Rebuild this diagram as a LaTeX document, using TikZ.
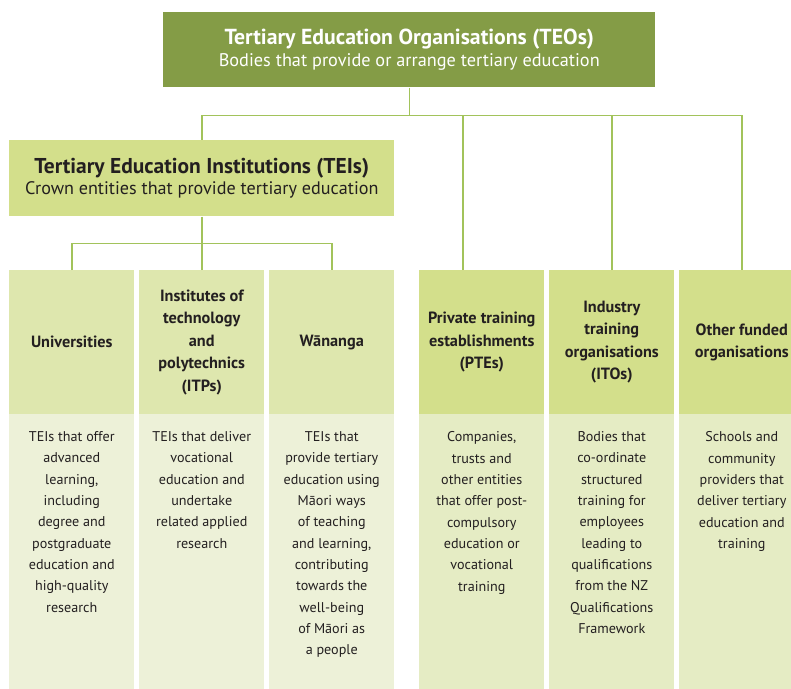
\documentclass[tikz,border=0pt]{standalone}
\usepackage{fontspec}
\setmainfont{PT Sans}
\definecolor{teodark}{HTML}{849C46}
\definecolor{teimid}{HTML}{D3DF8B}
\definecolor{lefthead}{HTML}{DEE7AE}
\definecolor{leftbody}{HTML}{EDF1D8}
\definecolor{rightbody}{HTML}{E5ECC4}
\definecolor{lineg}{HTML}{A2C35B}
\definecolor{txt}{HTML}{231F20}
\newcommand\hdfont{\fontsize{12.2}{16.9}\selectfont\bfseries}
\newcommand\bdfont{\fontsize{10.6}{16}\selectfont}
\begin{document}
\begin{tikzpicture}[x=0.75pt,y=-0.75pt,
  conn/.style={draw=lineg, line width=1.1pt},
  teobox/.style={fill=teodark, text=white, inner sep=0, minimum width=369pt, minimum height=56.25pt, anchor=north west, align=center},
  teibox/.style={fill=teimid, text=txt, inner sep=0, minimum width=288.75pt, minimum height=57pt, anchor=north west, align=center},
  headbox/.style={inner sep=0, minimum width=93.75pt, minimum height=108pt, anchor=north west, align=center, text=txt, font=\hdfont},
  bodybox/.style={inner sep=0, minimum width=93.75pt, minimum height=215pt, anchor=north west},
  bodytext/.style={inner sep=0, anchor=north, align=center, text=txt, font=\bdfont}]
\useasboundingbox (0,0) rectangle (791,688);
\clip (0,0) rectangle (791,688);
% top boxes
\node[teobox] (teo) at (163,12) {{\fontsize{16.3}{18}\selectfont\bfseries Tertiary Education Organisations (TEOs)}\\[2.5pt]{\fontsize{13.7}{18}\selectfont Bodies that provide or arrange tertiary education}};
\node[teibox] (tei) at (9,140) {{\fontsize{16.1}{19.5}\selectfont\bfseries Tertiary Education Institutions (TEIs)}\\[2pt]{\fontsize{13.6}{19.5}\selectfont Crown entities that provide tertiary education}};
% headers
\node[headbox, fill=lefthead] (uni) at (9,270) {Universities};
\node[headbox, fill=lefthead] (itp) at (139,270) {Institutes of\\technology\\and\\polytechnics\\(ITPs)};
\node[headbox, fill=lefthead] (wan) at (269,270) {Wānanga};
\node[headbox, fill=teimid] (pte) at (419,270) {Private training\\establishments\\(PTEs)};
\node[headbox, fill=teimid] (ito) at (549,270) {Industry\\training\\organisations\\(ITOs)};
\node[headbox, fill=teimid] (oth) at (679,270) {Other funded\\organisations};
% bodies
\node[bodybox, fill=leftbody] (unib) at (9,414) {};
\node[bodybox, fill=leftbody] (itpb) at (139,414) {};
\node[bodybox, fill=leftbody] (wanb) at (269,414) {};
\node[bodybox, fill=rightbody] (pteb) at (419,414) {};
\node[bodybox, fill=rightbody] (itob) at (549,414) {};
\node[bodybox, fill=rightbody] (othb) at (679,414) {};
\node[bodytext] (unit) at ([yshift=-13pt]unib.north) {TEIs that offer\\advanced\\learning,\\including\\degree and\\postgraduate\\education and\\high-quality\\research};
\node[bodytext] (itpt) at ([yshift=-13pt]itpb.north) {TEIs that deliver\\vocational\\education and\\undertake\\related applied\\research};
\node[bodytext] (want) at ([yshift=-13pt]wanb.north) {TEIs that\\provide tertiary\\education using\\Māori ways\\of teaching\\and learning,\\contributing\\towards the\\well-being\\of Māori as\\a people};
\node[bodytext] (ptet) at ([yshift=-13pt]pteb.north) {Companies,\\trusts and\\other entities\\that offer post-\\compulsory\\education or\\vocational\\training};
\node[bodytext] (itot) at ([yshift=-13pt]itob.north) {Bodies that\\co-ordinate\\structured\\training for\\employees\\leading to\\qualifications\\from the NZ\\Qualifications\\Framework};
\node[bodytext] (otht) at ([yshift=-13pt]othb.north) {Schools and\\community\\providers that\\deliver tertiary\\education and\\training};
% connectors
\draw[conn] (teo.south) -- ++(0,28) coordinate (busT);
\draw[conn] (tei.north) -- (tei.north |- busT) -- (oth.north |- busT) -- (oth.north);
\draw[conn] (ito.north) -- (ito.north |- busT);
\coordinate (pteTap) at (463,270);
\draw[conn] (pteTap) -- (pteTap |- busT);
\draw[conn] (tei.south) -- ++(0,27) coordinate (busI);
\draw[conn] (uni.north) -- (uni.north |- busI) -- (wan.north |- busI) -- (wan.north);
\draw[conn] (itp.north) -- (itp.north |- busI);
\end{tikzpicture}
\end{document}
